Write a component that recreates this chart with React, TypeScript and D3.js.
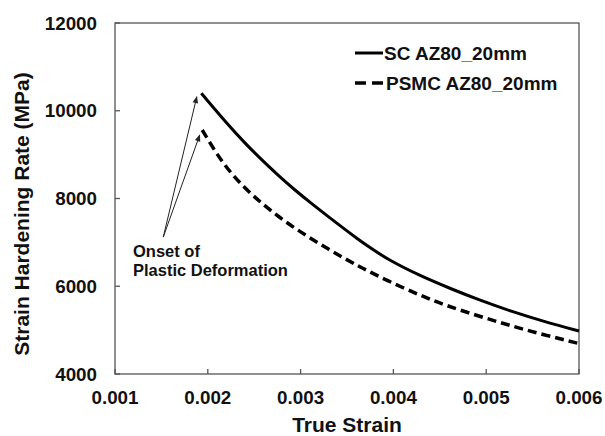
import React from "react";
import * as d3 from "d3";

const strainSC = [0.00193, 0.00222, 0.0024, 0.00258, 0.00276, 0.00294, 0.00312, 0.0033, 0.00345, 0.0036, 0.00378, 0.00396, 0.00429, 0.00461, 0.00492, 0.00528, 0.00563, 0.006];
const rateSC = [10398, 9675, 9262, 8880, 8525, 8190, 7880, 7585, 7340, 7100, 6835, 6585, 6235, 5950, 5690, 5420, 5192, 4980];
const strainPSMC = [0.00194, 0.00208, 0.00222, 0.0024, 0.00258, 0.00276, 0.00294, 0.00312, 0.0033, 0.00348, 0.00366, 0.00393, 0.00429, 0.00456, 0.00492, 0.00528, 0.00563, 0.006];
const ratePSMC = [9561, 9067, 8650, 8232, 7891, 7590, 7320, 7075, 6845, 6625, 6420, 6130, 5790, 5565, 5320, 5090, 4889, 4695];
const xTicks = [0.001, 0.002, 0.003, 0.004, 0.005, 0.006];
const yTicks = [4000, 6000, 8000, 10000, 12000];
const seriesNames = ["SC AZ80_20mm", "PSMC AZ80_20mm"];
const annotationLines = ["Onset of", "Plastic Deformation"];
const arrowOrigin = [0.00152, 7120];

const W = 605, H = 436;
const L = 115, R = 579, T = 23, B = 374;
const FONT = "'Liberation Sans', Arial, sans-serif";

export default function App() {
  const x = d3.scaleLinear().domain([0.001, 0.006]).range([L, R]);
  const y = d3.scaleLinear().domain([4000, 12000]).range([B, T]);
  const line = d3.line<[number, number]>().x(d => x(d[0])).y(d => y(d[1])).curve(d3.curveBasis);
  const sc = strainSC.map((s, i) => [s, rateSC[i]] as [number, number]);
  const ps = strainPSMC.map((s, i) => [s, ratePSMC[i]] as [number, number]);
  const ox = x(arrowOrigin[0]), oy = y(arrowOrigin[1]);
  const targets = [
    [x(strainSC[0]) - 4.5, y(rateSC[0]) + 3.5],
    [x(strainPSMC[0]) - 2.5, y(ratePSMC[0]) + 5],
  ];
  const axisColor = "#555";
  const txt = "#111";
  return (
    <svg width={W} height={H} style={{ position: "absolute", left: 0, top: 0, background: "#fff" }} fontFamily={FONT}>
      <defs>
        <marker id="ah" viewBox="0 0 10 10" refX="9" refY="5" markerWidth="8" markerHeight="7" orient="auto" markerUnits="userSpaceOnUse">
          <path d="M0,1 L10,5 L0,9 z" fill="#222" />
        </marker>
      </defs>
      <rect x={L} y={T} width={R - L} height={B - T} fill="none" stroke={axisColor} strokeWidth={1.3} />
      {xTicks.map(t => (
        <g key={"x" + t}>
          <line x1={x(t)} x2={x(t)} y1={B} y2={B - 5} stroke={axisColor} strokeWidth={1.3} />
          <text x={x(t)} y={404} textAnchor="middle" fontSize={18.8} fontWeight="bold" fill={txt}>{t.toFixed(3)}</text>
        </g>
      ))}
      {yTicks.map(t => (
        <g key={"y" + t}>
          <line x1={L} x2={L + 5} y1={y(t)} y2={y(t)} stroke={axisColor} strokeWidth={1.3} />
          <text x={97} y={y(t) + 6.5} textAnchor="end" fontSize={18.8} fontWeight="bold" fill={txt}>{t}</text>
        </g>
      ))}
      <text x={(L + R) / 2} y={432} textAnchor="middle" fontSize={21} fontWeight="bold" fill={txt}>True Strain</text>
      <text transform={`translate(29,214) rotate(-90)`} textAnchor="middle" fontSize={21} fontWeight="bold" fill={txt}>Strain Hardening Rate (MPa)</text>
      <path d={line(sc) || ""} fill="none" stroke="#000" strokeWidth={3} />
      <path d={line(ps) || ""} fill="none" stroke="#000" strokeWidth={3.5} strokeDasharray="9,5" />
      {targets.map((tg, i) => (
        <line key={"a" + i} x1={ox} y1={oy} x2={tg[0]} y2={tg[1]} stroke="#222" strokeWidth={1} markerEnd="url(#ah)" />
      ))}
      <text x={133} y={257} fontSize={16.5} fontWeight="bold" fill={txt}>{annotationLines[0]}</text>
      <text x={133} y={276} fontSize={16.5} fontWeight="bold" fill={txt}>{annotationLines[1]}</text>
      <line x1={355} x2={383} y1={53} y2={53} stroke="#000" strokeWidth={3} />
      <text x={384} y={59.5} fontSize={19} fontWeight="bold" fill={txt}>{seriesNames[0]}</text>
      <line x1={355} x2={383} y1={83} y2={83} stroke="#000" strokeWidth={3.5} strokeDasharray="11,6" />
      <text x={386} y={89.5} fontSize={19} fontWeight="bold" fill={txt}>{seriesNames[1]}</text>
    </svg>
  );
}
